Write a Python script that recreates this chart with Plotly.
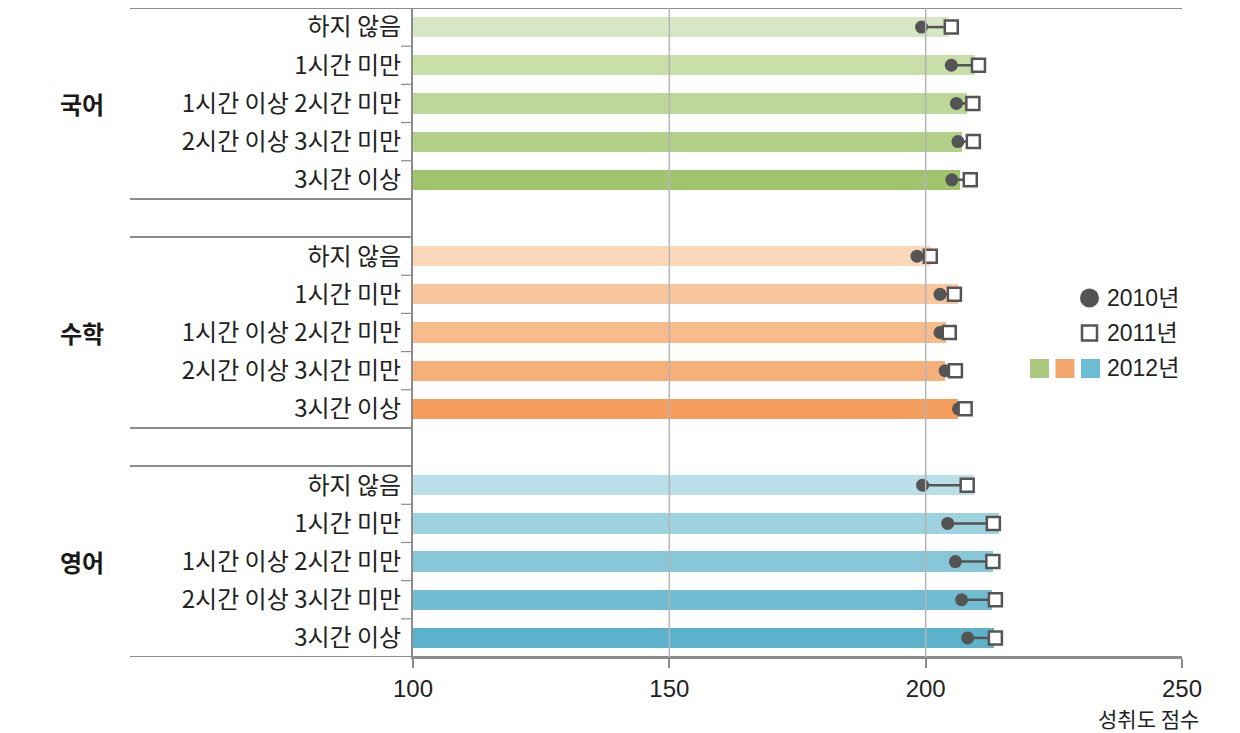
import plotly.graph_objects as go

subjects = ["국어", "수학", "영어"]
categories = ["하지 않음", "1시간 미만", "1시간 이상 2시간 미만", "2시간 이상 3시간 미만", "3시간 이상"]

score_2012 = {
    "국어": [204.6, 209.7, 208.0, 207.0, 206.6],
    "수학": [201.0, 206.3, 204.0, 203.7, 206.3],
    "영어": [209.5, 214.4, 213.2, 213.0, 213.4],
}
score_2010 = {
    "국어": [199.2, 205.0, 206.0, 206.3, 205.1],
    "수학": [198.3, 202.8, 202.8, 203.8, 206.4],
    "영어": [199.4, 204.3, 205.8, 207.0, 208.2],
}
score_2011 = {
    "국어": [205.0, 210.3, 209.2, 209.3, 208.7],
    "수학": [200.9, 205.6, 204.6, 205.8, 207.7],
    "영어": [208.1, 213.2, 213.1, 213.6, 213.6],
}
bar_colors = {
    "국어": ["#d7e7c4", "#c9dea9", "#bdd798", "#b2d088", "#a3c46f"],
    "수학": ["#fbd7b9", "#f9c69d", "#f8bb8b", "#f7af79", "#f59d5d"],
    "영어": ["#b9e0e8", "#9fd2df", "#87c7d8", "#71bdd2", "#5cb1cb"],
}
legend_colors = ["#aac87d", "#f5a86e", "#6cbcd3"]
x_ticks = [100, 150, 200, 250]
grid_vals = [150, 200]

# layout geometry (pixels)
W, H = 1240, 733
L, R, T, B = 413, 58, 8, 76
PW, PH = W - L - R, H - T - B

def px(x):
    return (x - L) / PW

def py(y):
    return (H - B - y) / PH

rows_per_group = 6
fig = go.Figure()

tickvals, ticktext = [], []
for gi, s in enumerate(subjects):
    ys = [gi * rows_per_group + i for i in range(len(categories))]
    tickvals += ys
    ticktext += categories
    fig.add_trace(go.Bar(
        x=[v - x_ticks[0] for v in score_2012[s]], base=x_ticks[0], y=ys,
        orientation="h", width=0.53, marker=dict(color=bar_colors[s], line=dict(width=0)),
        showlegend=False, hoverinfo="skip"))
    lx, ly = [], []
    for y, a, b in zip(ys, score_2010[s], score_2011[s]):
        lx += [a, b, None]
        ly += [y, y, None]
    fig.add_trace(go.Scatter(x=lx, y=ly, mode="lines", line=dict(color="#555555", width=2.5),
                             showlegend=False, hoverinfo="skip"))
    fig.add_trace(go.Scatter(x=score_2010[s], y=ys, mode="markers",
                             marker=dict(symbol="circle", size=13, color="#545454", line=dict(width=0)),
                             showlegend=False, hoverinfo="skip"))
    fig.add_trace(go.Scatter(x=score_2011[s], y=ys, mode="markers",
                             marker=dict(symbol="square", size=13, color="white",
                                         line=dict(color="#555555", width=2.5)),
                             showlegend=False, hoverinfo="skip"))

n_rows = rows_per_group * len(subjects) - 1
shapes = []
line_c = "#8c8c8c"
x_left = px(130)
shapes.append(dict(type="line", xref="paper", yref="y", x0=x_left, x1=1, y0=-0.5, y1=-0.5,
                   line=dict(color=line_c, width=2)))
shapes.append(dict(type="line", xref="paper", yref="y", x0=x_left, x1=1, y0=n_rows - 0.5, y1=n_rows - 0.5,
                   line=dict(color=line_c, width=2)))
for gi in range(len(subjects)):
    base = gi * rows_per_group
    if gi < len(subjects) - 1:
        for yb in [base + 4.5, base + 5.5]:
            shapes.append(dict(type="line", xref="paper", yref="y", x0=x_left, x1=0, y0=yb, y1=yb,
                               line=dict(color=line_c, width=2)))
    for k in range(4):
        yb = base + k + 0.5
        shapes.append(dict(type="line", xref="paper", yref="y", x0=px(401), x1=0, y0=yb, y1=yb,
                           line=dict(color=line_c, width=1.2)))
for gv in grid_vals:
    shapes.append(dict(type="line", xref="x", yref="paper", x0=gv, x1=gv, y0=0, y1=1,
                       line=dict(color="#b4b4b4", width=1.5), layer="above"))

# legend
leg_font = dict(family="Liberation Sans, Noto Sans CJK KR, sans-serif", size=23, color="#222")
shapes.append(dict(type="circle", xref="paper", yref="paper", x0=px(1080), x1=px(1099),
                   y0=py(307.5), y1=py(288.5), fillcolor="#545454", line=dict(width=0)))
shapes.append(dict(type="rect", xref="paper", yref="paper", x0=px(1082), x1=px(1097),
                   y0=py(340.5), y1=py(325.5), fillcolor="white", line=dict(color="#555555", width=2.5)))
for i, c in enumerate(legend_colors):
    x0 = 1030 + i * 25.5
    shapes.append(dict(type="rect", xref="paper", yref="paper", x0=px(x0), x1=px(x0 + 19),
                       y0=py(378), y1=py(359), fillcolor=c, line=dict(width=0)))

annotations = []
for txt, yy in [("2010년", 298), ("2011년", 333), ("2012년", 368)]:
    annotations.append(dict(text=txt, xref="paper", yref="paper", x=px(1105), y=py(yy),
                            xanchor="left", yanchor="middle", showarrow=False, font=leg_font))
for gi, s in enumerate(subjects):
    annotations.append(dict(text="<b>" + s + "</b>", xref="paper", yref="y", x=px(82), y=gi * rows_per_group + 2,
                            xanchor="center", yanchor="middle", showarrow=False,
                            font=dict(family="Noto Sans CJK KR", size=24, color="#1a1a1a")))
annotations.append(dict(text="성취도 점수", xref="paper", yref="paper", x=px(1201), y=py(717.5),
                        xanchor="right", yanchor="middle", showarrow=False,
                        font=dict(family="Noto Sans CJK KR", size=21, color="#222")))

fig.update_layout(
    width=W, height=H, margin=dict(l=L, r=R, t=T, b=B),
    paper_bgcolor="white", plot_bgcolor="white",
    barmode="overlay", bargap=0,
    shapes=shapes, annotations=annotations,
    xaxis=dict(range=[x_ticks[0], x_ticks[-1]], tickvals=x_ticks, showgrid=False, zeroline=False,
               showline=True, linecolor=line_c, linewidth=2,
               ticks="outside", ticklen=9, tickcolor=line_c, tickwidth=1.5,
               tickfont=dict(family="Liberation Sans, sans-serif", size=24, color="#222")),
    yaxis=dict(range=[n_rows - 0.5, -0.5], tickvals=tickvals, ticktext=ticktext,
               showgrid=False, zeroline=False, showline=True, linecolor=line_c, linewidth=2,
               ticks="outside", ticklen=5, tickcolor="rgba(0,0,0,0)",
               tickfont=dict(family="Noto Sans CJK KR", size=24, color="#222")),
    font=dict(family="Noto Sans CJK KR"),
)

fig.write_html("out.html")
